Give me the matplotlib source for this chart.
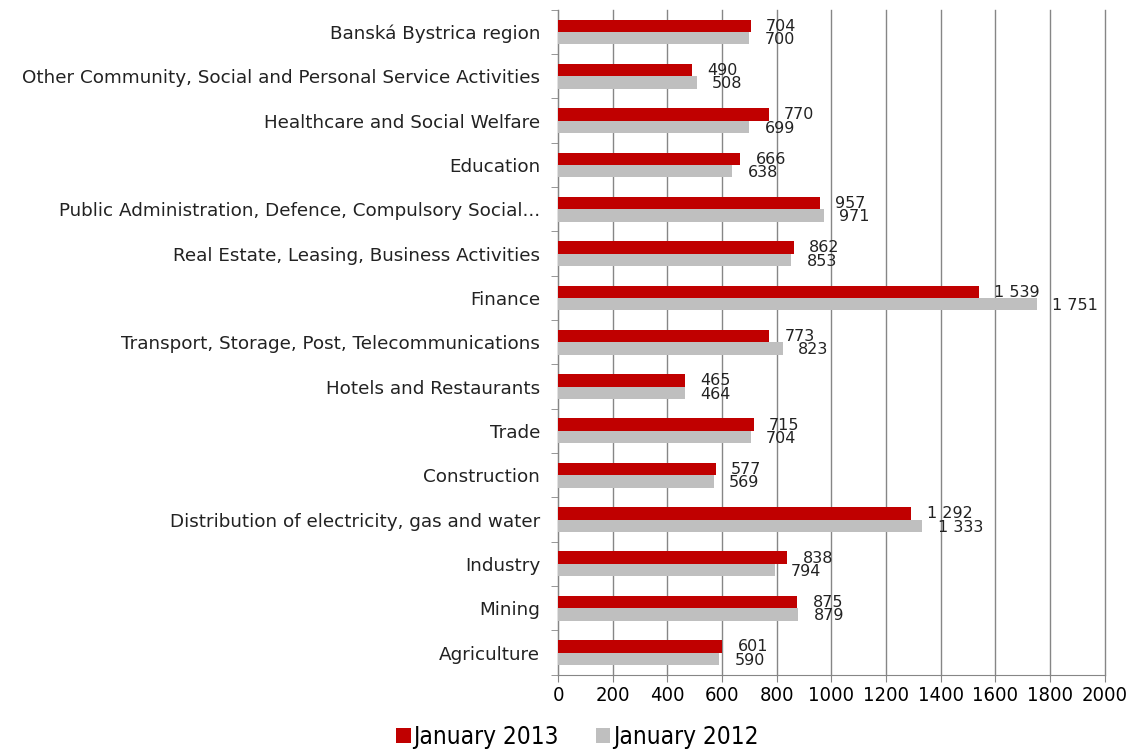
import numpy as np
import matplotlib.pyplot as plt
from matplotlib.ticker import MultipleLocator, FixedLocator

# categories listed bottom -> top
categories = ['Agriculture', 'Mining', 'Industry',
              'Distribution of electricity, gas and water', 'Construction', 'Trade',
              'Hotels and Restaurants', 'Transport, Storage, Post, Telecommunications',
              'Finance', 'Real Estate, Leasing, Business Activities',
              'Public Administration, Defence, Compulsory Social...', 'Education',
              'Healthcare and Social Welfare',
              'Other Community, Social and Personal Service Activities',
              'Banská Bystrica region']
jan2013 = [601, 875, 838, 1292, 577, 715, 465, 773, 1539, 862, 957, 666, 770, 490, 704]
jan2012 = [590, 879, 794, 1333, 569, 704, 464, 823, 1751, 853, 971, 638, 699, 508, 700]

red = '#C00000'
grey = '#BFBFBF'
axc = '#868686'

def fmt(v):
    return '{:,}'.format(v).replace(',', ' ')

fig = plt.figure(figsize=(11.32, 7.53), dpi=100)
ax = fig.add_axes([0.493, 0.104, 0.483, 0.883])

y = np.arange(len(categories))
h = 0.28
ax.barh(y + h / 2, jan2013, height=h, color=red, label='January 2013', zorder=3)
ax.barh(y - h / 2, jan2012, height=h, color=grey, label='January 2012', zorder=3)

for yi, v in zip(y, jan2013):
    ax.annotate(fmt(v), (v, yi + h / 2 - 0.01), xytext=(11, 0), textcoords='offset points',
                va='center', ha='left', fontsize=11.5, color='#222222')
for yi, v in zip(y, jan2012):
    ax.annotate(fmt(v), (v, yi - h / 2 - 0.03), xytext=(11, 0), textcoords='offset points',
                va='center', ha='left', fontsize=11.5, color='#222222')

ax.set_xlim(0, 2000)
ax.set_ylim(-0.5, len(categories) - 0.5)
ax.xaxis.set_major_locator(MultipleLocator(200))
ax.grid(axis='x', color=axc, linewidth=1, zorder=0)
for gl in ax.get_xgridlines():
    gl.set_clip_on(False)

ax.set_yticks(y)
ax.set_yticklabels(categories, fontsize=13.2, color='#222222')
ax.yaxis.set_minor_locator(FixedLocator(np.arange(-0.5, len(categories), 1)))
ax.tick_params(axis='y', which='major', length=0, pad=13)
ax.tick_params(axis='y', which='minor', length=5, color=axc, direction='out')
ax.tick_params(axis='x', length=5, color=axc, direction='out', labelsize=14.5, pad=3)
for lab in ax.get_xticklabels():
    lab.set_fontstretch('condensed')

ax.spines['top'].set_visible(False)
ax.spines['right'].set_visible(False)
ax.spines['left'].set_color(axc)
ax.spines['bottom'].set_color(axc)

leg = fig.legend(loc='lower center', bbox_to_anchor=(0.51, -0.024), ncol=2, frameon=False,
                 prop={'size': 17.5, 'stretch': 'condensed'},
                 handlelength=0.6, handleheight=0.6, handletextpad=0.12, columnspacing=1.5)

fig.savefig('out.png', dpi=100)
